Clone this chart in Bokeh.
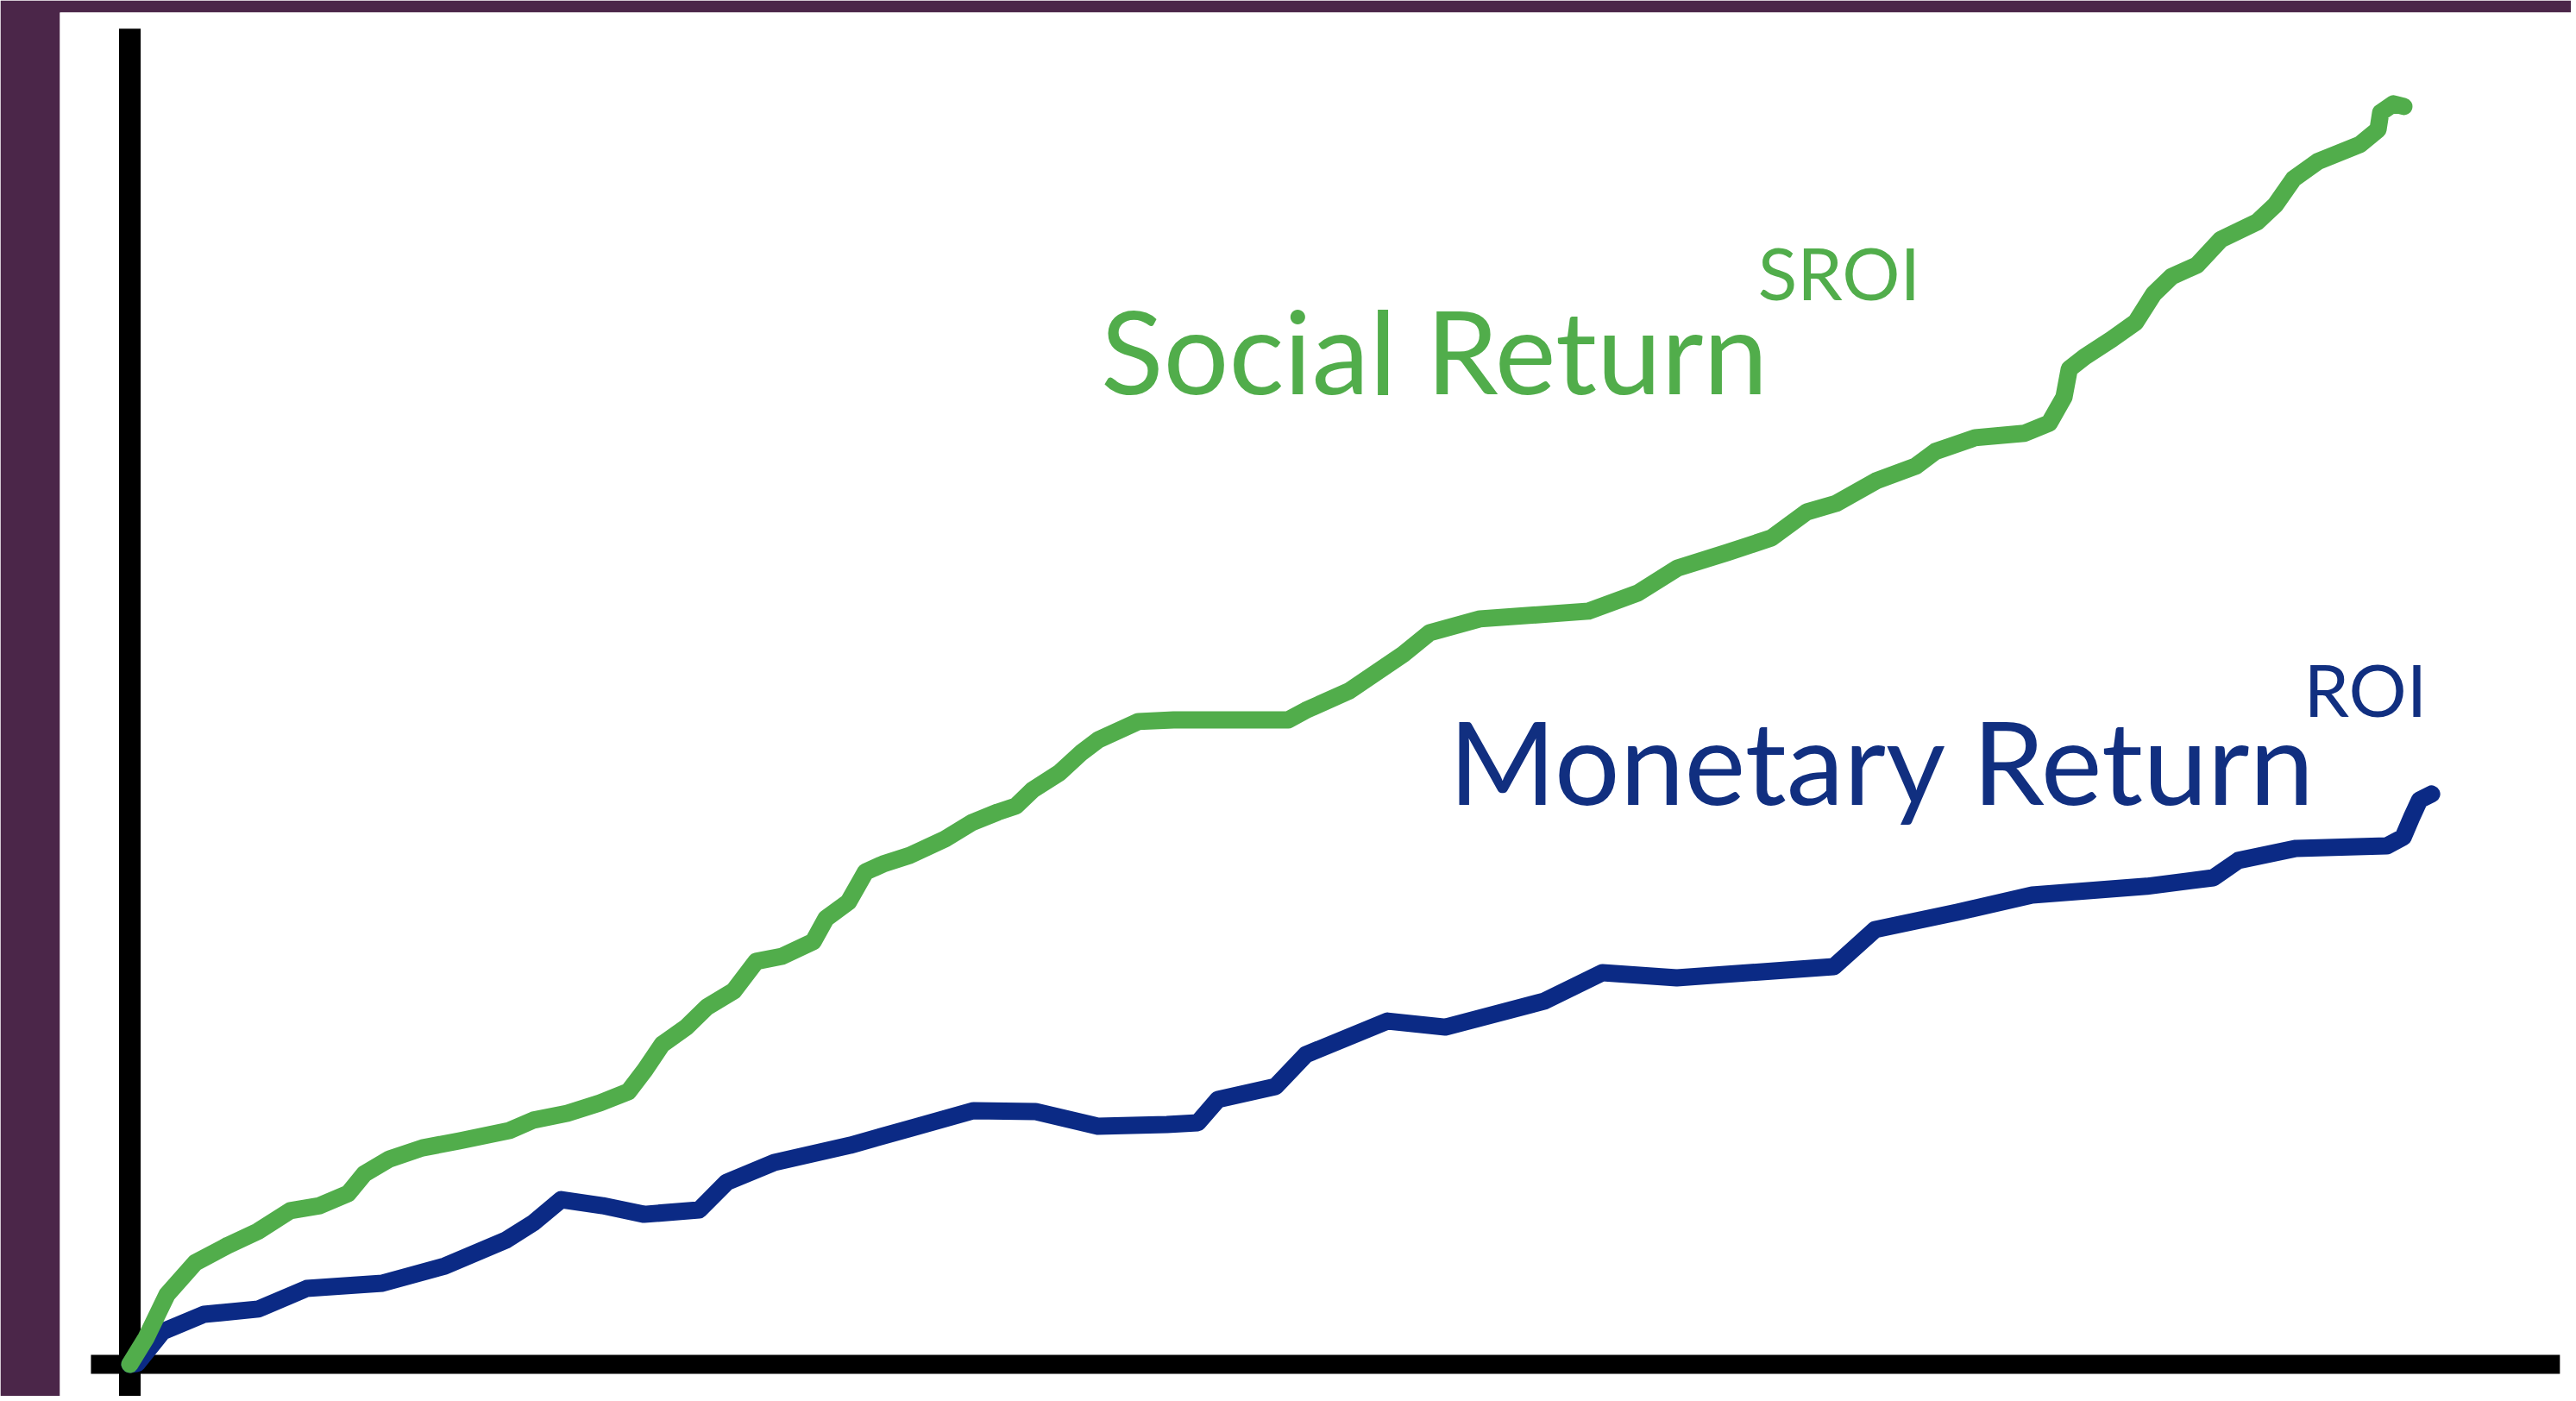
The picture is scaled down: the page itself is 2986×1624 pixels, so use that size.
from bokeh.plotting import figure
from bokeh.models import Range1d, ColumnDataSource
from bokeh.core.properties import value
from bokeh.embed import file_html
from bokeh.resources import INLINE

# ---- data (arbitrary units: x = time, y = cumulative return) ----
social_x = [0, 0.68, 1.54, 2.71, 4.07, 5.29, 6.64, 7.86, 9.04, 9.71, 10.75, 12.11, 13.64,
            15.71, 16.71, 18.11, 19.46, 20.64, 21.32, 22.04, 23.04, 23.89, 25.0, 25.93,
            27.0, 28.29, 28.82, 29.75, 30.46, 31.18, 32.29, 33.75, 34.86, 35.93, 36.68,
            37.39, 38.5, 39.39, 40.11, 41.75, 43.21, 47.96, 48.68, 50.5, 52.71, 53.82,
            55.89, 60.39, 62.43, 64.07, 66.14, 67.96, 69.43, 70.64, 72.29, 73.93, 74.75,
            76.39, 78.43, 79.46, 80.07, 80.29, 80.93, 82.04, 83.04, 83.79, 84.54, 85.57,
            86.57, 88.07, 88.82, 89.57, 90.57, 92.32, 93.07, 93.18, 93.71, 94.14]
social_y = [0, 1.11, 2.89, 4.21, 4.93, 5.50, 6.36, 6.57, 7.07, 7.89, 8.50, 8.96, 9.25,
            9.68, 10.11, 10.39, 10.82, 11.29, 12.18, 13.25, 13.96, 14.79, 15.46, 16.68,
            16.89, 17.5, 18.46, 19.14, 20.39, 20.71, 21.07, 21.75, 22.43, 22.86, 23.11,
            23.79, 24.5, 25.32, 25.86, 26.61, 26.68, 26.68, 27.07, 27.89, 29.39, 30.29,
            30.86, 31.18, 31.93, 32.96, 33.61, 34.21, 35.29, 35.64, 36.57, 37.18, 37.79,
            38.36, 38.54, 38.96, 40.04, 41.21, 41.71, 42.43, 43.14, 44.32, 45.04, 45.5,
            46.57, 47.29, 48.0, 49.07, 49.79, 50.5, 51.11, 51.82, 52.18, 52.07]

monetary_x = [0, 0.3, 1.36, 3.07, 5.32, 7.32, 10.46, 13.04, 15.57, 16.71, 17.86, 19.57,
              21.29, 23.57, 24.71, 26.68, 29.82, 32.39, 34.93, 37.5, 40.07, 42.93, 44.21,
              45.04, 47.43, 48.68, 52.07, 54.46, 58.57, 60.96, 64.04, 70.54, 72.25, 75.64,
              78.75, 83.5, 86.25, 87.29, 89.68, 93.43, 94.11, 94.46, 94.79, 95.29]
monetary_y = [0, 0.04, 1.36, 2.07, 2.29, 3.14, 3.36, 4.07, 5.14, 5.86, 6.82, 6.57,
              6.21, 6.39, 7.54, 8.36, 9.07, 9.79, 10.5, 10.46, 9.86, 9.93, 10.0,
              10.96, 11.5, 12.82, 14.21, 13.96, 15.04, 16.21, 16.0, 16.46, 18.0, 18.71,
              19.43, 19.79, 20.14, 20.86, 21.36, 21.46, 21.82, 22.64, 23.36, 23.61]

label_text = ["Social Return", "Monetary Return"]
label_x = [40.2, 54.6]
label_y = [42.0, 25.0]
sup_text = ["SROI", "ROI"]
sup_x = [67.4, 90.0]
sup_y = [45.2, 27.95]

# axis extents
x_axis_x = [-1.61, 100.6]
y_axis_y = [-2.0, 55.29]

GREEN = "#51ad4b"
NAVY = "#0b2a85"
TEXT_NAVY = "#112f80"
PURPLE = "#4b2649"

p = figure(width=2980, height=1618, output_backend="svg", toolbar_location=None,
           x_axis_location=None, y_axis_location=None,
           x_range=Range1d(-2.893, 101.07), y_range=Range1d(-1.321, 55.96),
           min_border_left=69, min_border_top=14, min_border_right=0, min_border_bottom=0)
p.border_fill_color = PURPLE
p.background_fill_color = "white"
p.outline_line_color = None
p.grid.visible = False

# axes lines
p.segment(x0=[0], y0=[y_axis_y[0]], x1=[0], y1=[y_axis_y[1]], line_color="black",
          line_width=25, line_cap="butt")
p.segment(x0=[x_axis_x[0]], y0=[0], x1=[x_axis_x[1]], y1=[0], line_color="black",
          line_width=22, line_cap="butt")

p.line(monetary_x, monetary_y, line_color=NAVY, line_width=20, line_join="round", line_cap="round")
p.line(social_x, social_y, line_color=GREEN, line_width=20, line_join="round", line_cap="round")

main_src = ColumnDataSource(dict(x=label_x, y=label_y, t=label_text, c=[GREEN, TEXT_NAVY]))
p.text(x="x", y="y", text="t", text_color="c", source=main_src,
       text_font=value("Lato"), text_font_size="134px",
       text_align="left", text_baseline="alphabetic")
sup_src = ColumnDataSource(dict(x=sup_x, y=sup_y, t=sup_text, c=[GREEN, TEXT_NAVY]))
p.text(x="x", y="y", text="t", text_color="c", source=sup_src,
       text_font=value("Lato"), text_font_size="84px",
       text_align="left", text_baseline="alphabetic")

open("out.html", "w").write(file_html(p, INLINE))
